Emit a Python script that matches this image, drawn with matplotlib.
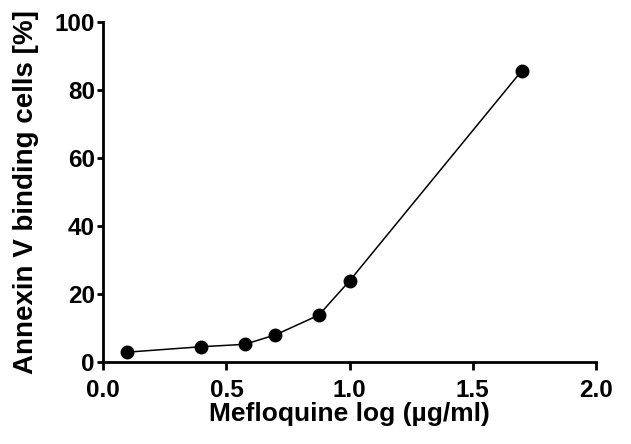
import matplotlib.pyplot as plt

# Mefloquine concentration (log ug/ml) vs Annexin V binding cells (%)
log_conc = [0.097, 0.398, 0.574, 0.699, 0.875, 1.0, 1.699]
annexin_pct = [2.8, 4.4, 5.1, 7.9, 13.7, 23.8, 85.6]

x_ticks = [0.0, 0.5, 1.0, 1.5, 2.0]
y_ticks = [0, 20, 40, 60, 80, 100]

plt.rcParams['font.family'] = ['Liberation Sans', 'DejaVu Sans']
plt.rcParams['font.weight'] = 'bold'

fig = plt.figure(figsize=(6.31, 4.44), dpi=100)
ax = fig.add_axes([0.1637, 0.1854, 0.7808, 0.7657])

ax.plot(log_conc, annexin_pct, color='black', linewidth=1.1,
        marker='o', markersize=9, markerfacecolor='black', markeredgecolor='black',
        clip_on=False)

ax.set_xlim(0, 2.0)
ax.set_ylim(0, 100)
ax.set_xticks(x_ticks)
ax.set_yticks(y_ticks)
ax.set_xticklabels([f'{v:.1f}' for v in x_ticks])
ax.set_yticklabels([str(v) for v in y_ticks])

for side in ['top', 'right']:
    ax.spines[side].set_visible(False)
for side in ['left', 'bottom']:
    ax.spines[side].set_linewidth(2)

ax.tick_params(axis='x', direction='out', length=6, width=2, labelsize=17.5, pad=6.5)
ax.tick_params(axis='y', direction='out', length=4, width=2, labelsize=17.5, pad=2)
for lbl in ax.get_xticklabels() + ax.get_yticklabels():
    lbl.set_fontweight('bold')

ax.set_xlabel('Mefloquine log (µg/ml)', fontsize=19, fontweight='bold', labelpad=0)
ax.set_ylabel('Annexin V binding cells [%]', fontsize=20, fontweight='bold', labelpad=11)

fig.savefig('out.png', dpi=100)
